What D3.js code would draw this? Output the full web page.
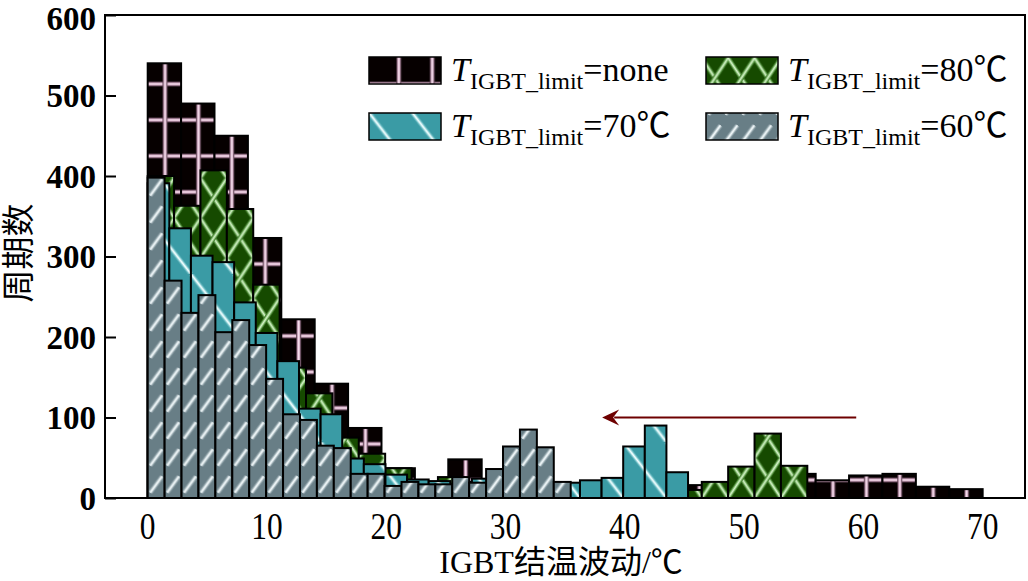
<!DOCTYPE html>
<html>
<head>
<meta charset="utf-8">
<script src="https://cdn.jsdelivr.net/npm/d3@7"></script>
<style>
  body { margin: 0; background: #fff; }
  svg { display: block; }
  text { font-family: "Liberation Serif", "Noto Sans CJK SC", serif; fill: #000; }
</style>
</head>
<body>
<div id="chart"></div>
<script>
// four histograms, 25 bins each, bin width differs per series
const seriesNames = ['none', '80℃', '70℃', '60℃'];
const binWidths = [2.8, 2.212, 1.812, 1.4185];

const countsNone = [540, 490, 450, 323, 222, 142, 87, 37, 20, 48, 22, 20, 15, 15, 18, 20, 16, 15, 20, 30, 22, 28, 30, 14, 11];
const counts80 = [400, 363, 407, 359, 265, 162, 130, 75, 55, 37, 18, 26, 20, 18, 15, 14, 16, 15, 20, 20, 10, 20, 39, 80, 40];
const counts70 = [391, 335, 301, 293, 243, 205, 170, 111, 104, 49, 42, 29, 23, 21, 16, 24, 20, 18, 16, 19, 22, 25, 64, 90, 32];
const counts60 = [398, 270, 230, 252, 206, 221, 190, 148, 104, 97, 65, 62, 30, 30, 15, 20, 17, 17, 26, 19, 36, 64, 85, 63, 20];

const xTicks = [0, 10, 20, 30, 40, 50, 60, 70];
const yTicks = [0, 100, 200, 300, 400, 500, 600];
const arrowFrom = [59.4, 100];
const arrowTo = [38.1, 100];

const width = 1028, height = 581;
const margin = { top: 15, right: 3, bottom: 83, left: 105 };

const svg = d3.select('#chart').append('svg')
    .attr('width', width)
    .attr('height', height);

const x = d3.scaleLinear().domain([-3.58, 73.55]).range([margin.left, width - margin.right]);
const y = d3.scaleLinear().domain([0, 600]).range([height - margin.bottom, margin.top]);

const defs = svg.append('defs');

// soft glowing line, drawn three times to fake the blurry hatch of the original
function softLine(g, x1, y1, x2, y2, colors) {
    [[colors[0], 5], [colors[1], 3], [colors[2], 1.2]].forEach(([c, w]) => {
        g.append('line').attr('x1', x1).attr('y1', y1).attr('x2', x2).attr('y2', y2)
            .attr('stroke', c).attr('stroke-width', w).attr('stroke-linecap', 'butt');
    });
}

function makePattern(id, binW, reps, h, bg, draw) {
    const w = (x(binW) - x(0)) * reps;
    const p = defs.append('pattern')
        .attr('id', id)
        .attr('patternUnits', 'userSpaceOnUse')
        .attr('x', x(0)).attr('y', y(0))
        .attr('width', w).attr('height', h);
    p.append('rect').attr('width', w).attr('height', h).attr('fill', bg);
    draw(p, w, h);
}

makePattern('pNone', binWidths[0], 1, 36, '#060000', (p, w, h) => {
    softLine(p, 0, h / 2, w, h / 2, ['#5a4050', '#d6aec6', '#f6e0ee']);
    softLine(p, w * 0.52, 0, w * 0.52, h, ['#5a4050', '#d6aec6', '#f6e0ee']);
});
makePattern('p80', binWidths[1], 1, 40, '#164a00', (p, w, h) => {
    const c = ['#3f7a2a', '#8cc47a', '#d4f0c8'];
    softLine(p, 0, 0, w, h, c);
    softLine(p, w, 0, 0, h, c);
});
makePattern('p70', binWidths[2], 2, 56, '#3a9ba5', (p, w, h) => {
    const c = ['#5db3bb', '#a8dde2', '#f4ffff'];
    softLine(p, 0, 0, w, h, c);
    softLine(p, -w, 0, 0, h, c);
    softLine(p, w, 0, 2 * w, h, c);
});
makePattern('p60', binWidths[3], 1, 27, '#687e86', (p, w, h) => {
    const c = ['#8699a0', '#c4d2d6', '#f2f8fa'];
    softLine(p, w * 0.15, h * 0.8, w * 0.85, h * 0.2, c);
});

const series = [
    { name: seriesNames[0], counts: countsNone, bw: binWidths[0], fill: 'url(#pNone)' },
    { name: seriesNames[1], counts: counts80, bw: binWidths[1], fill: 'url(#p80)' },
    { name: seriesNames[2], counts: counts70, bw: binWidths[2], fill: 'url(#p70)' },
    { name: seriesNames[3], counts: counts60, bw: binWidths[3], fill: 'url(#p60)' }
];

series.forEach(s => {
    const bins = s.counts.map((c, i) => ({ x0: i * s.bw, x1: (i + 1) * s.bw, c }));
    svg.append('g').selectAll('rect')
        .data(bins)
        .enter()
        .append('rect')
        .attr('x', d => x(d.x0))
        .attr('y', d => y(d.c))
        .attr('width', d => x(d.x1) - x(d.x0))
        .attr('height', d => y(0) - y(d.c))
        .attr('fill', s.fill)
        .attr('stroke', '#000')
        .attr('stroke-width', 2);
});

// frame
svg.append('rect')
    .attr('x', x.range()[0]).attr('y', y.range()[1])
    .attr('width', x.range()[1] - x.range()[0])
    .attr('height', y.range()[0] - y.range()[1])
    .attr('fill', 'none').attr('stroke', '#000').attr('stroke-width', 2);

// y axis, ticks pointing inwards
const yAxis = svg.append('g')
    .attr('transform', `translate(${x.range()[0]},0)`)
    .call(d3.axisRight(y).tickValues(yTicks).tickSize(11).tickFormat(''));
yAxis.select('.domain').remove();
yAxis.selectAll('line').attr('stroke', '#000').attr('stroke-width', 2);

svg.append('g').selectAll('text')
    .data(yTicks)
    .enter()
    .append('text')
    .attr('x', 96)
    .attr('y', d => Math.max(y(d), 18))
    .attr('dy', '0.35em')
    .attr('text-anchor', 'end')
    .attr('font-size', 33)
    .attr('font-weight', 'bold')
    .text(d => d);

// x labels are tall and narrow
svg.append('g').selectAll('text')
    .data(xTicks)
    .enter()
    .append('text')
    .attr('transform', d => `translate(${x(d)},539) scale(0.85,1)`)
    .attr('text-anchor', 'middle')
    .attr('font-size', 37)
    .text(d => d);

svg.append('text')
    .attr('x', 561).attr('y', 573)
    .attr('text-anchor', 'middle')
    .attr('font-size', 32)
    .text('IGBT结温波动/℃');

svg.append('text')
    .attr('transform', 'translate(30,253) rotate(-90)')
    .attr('text-anchor', 'middle')
    .attr('font-size', 33)
    .text('周期数');

// arrow
const arrowColor = '#6e0000';
svg.append('line')
    .attr('x1', x(arrowFrom[0])).attr('y1', y(arrowFrom[1]))
    .attr('x2', x(arrowTo[0]) + 12).attr('y2', y(arrowTo[1]))
    .attr('stroke', arrowColor).attr('stroke-width', 2);
const tx = x(arrowTo[0]), ty = y(arrowTo[1]);
svg.append('path')
    .attr('d', `M${tx},${ty} L${tx + 17},${ty - 8} L${tx + 11},${ty} L${tx + 17},${ty + 8} Z`)
    .attr('fill', arrowColor);

// legend
const legendPos = [[369, 57], [706, 57], [369, 113], [706, 113]];
const legendFill = ['url(#pNone)', 'url(#p80)', 'url(#p70)', 'url(#p60)'];
const legend = svg.append('g');
seriesNames.forEach((n, i) => {
    const [lx, ly] = legendPos[i];
    legend.append('rect')
        .attr('x', lx).attr('y', ly).attr('width', 72).attr('height', 27)
        .attr('fill', legendFill[i]).attr('stroke', '#000').attr('stroke-width', 1.5);
    const t = legend.append('text')
        .attr('x', lx + 82).attr('y', ly + 24)
        .attr('font-size', 34);
    t.append('tspan').attr('font-style', 'italic').text('T');
    t.append('tspan').attr('font-size', 24).attr('dy', 8).text('IGBT_limit');
    t.append('tspan').attr('dy', -8).text('=' + n);
});
</script>
</body>
</html>
